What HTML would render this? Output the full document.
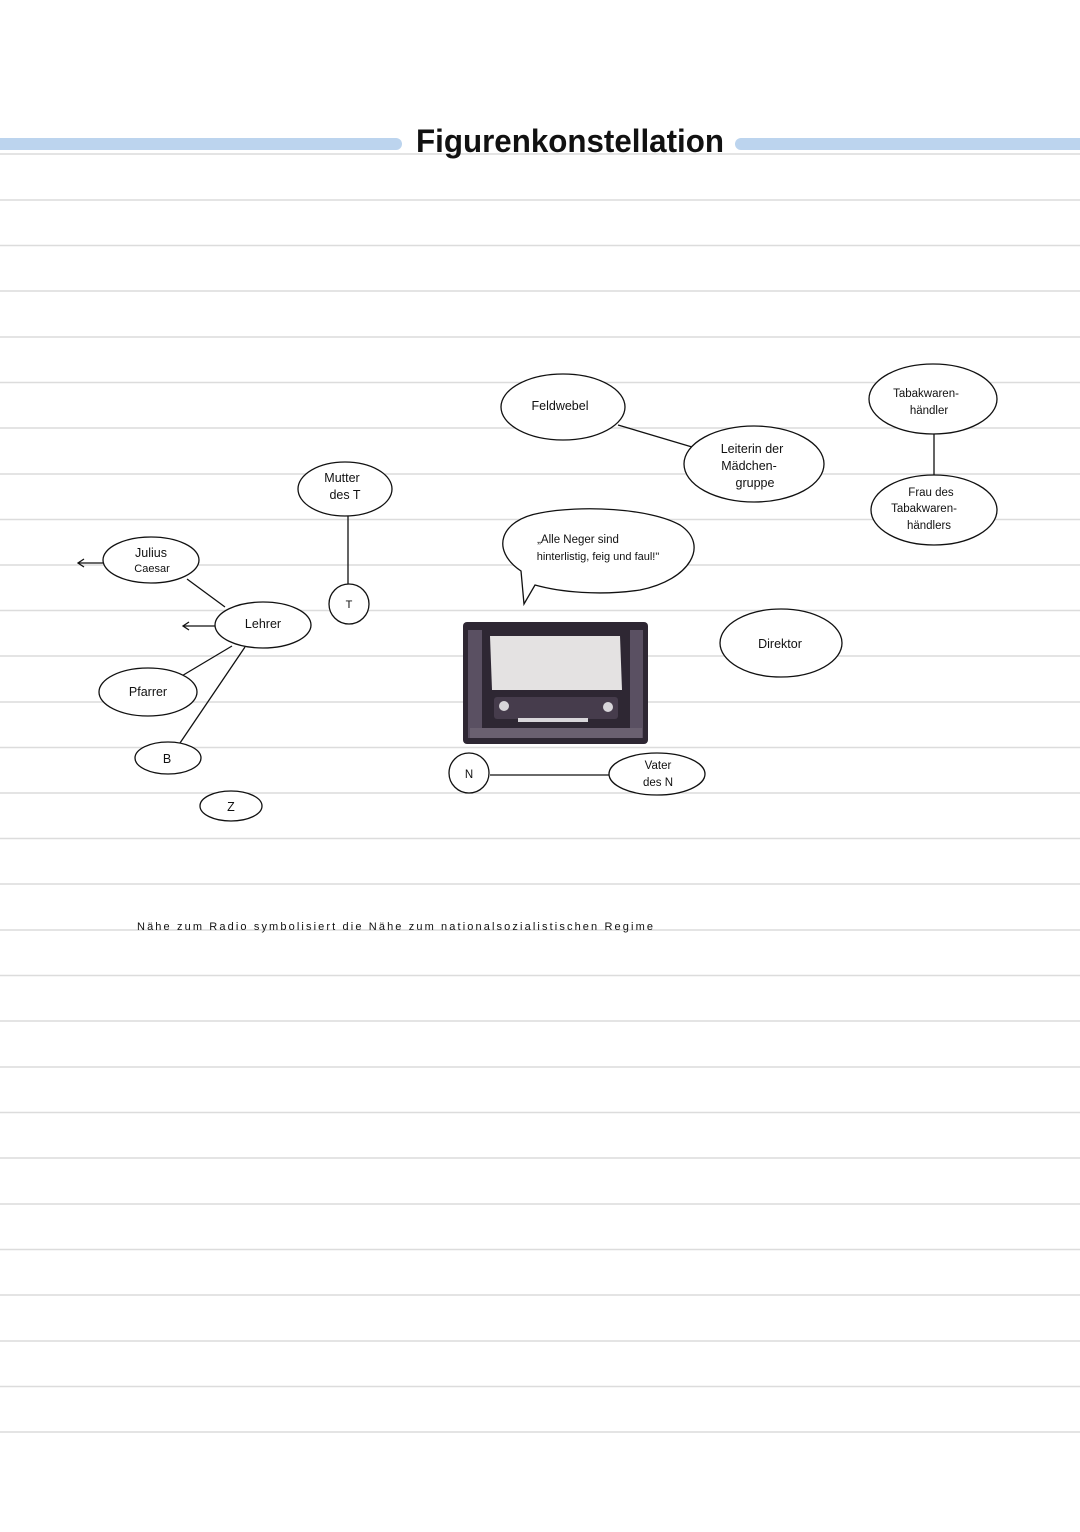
<!DOCTYPE html>
<html><head><meta charset="utf-8"><style>
html,body{margin:0;padding:0;background:#fff;}
svg{display:block}
text{font-family:"Comic Sans MS","Liberation Sans",sans-serif;fill:#111;}
</style></head><body>
<svg width="1080" height="1532" viewBox="0 0 1080 1532" xmlns="http://www.w3.org/2000/svg">
<g stroke="#dcdcdc" stroke-width="1.5">
<line x1="0" y1="154" x2="1080" y2="154"/>
<line x1="0" y1="200" x2="1080" y2="200"/>
<line x1="0" y1="245.5" x2="1080" y2="245.5"/>
<line x1="0" y1="291" x2="1080" y2="291"/>
<line x1="0" y1="337" x2="1080" y2="337"/>
<line x1="0" y1="382.5" x2="1080" y2="382.5"/>
<line x1="0" y1="428" x2="1080" y2="428"/>
<line x1="0" y1="474" x2="1080" y2="474"/>
<line x1="0" y1="519.5" x2="1080" y2="519.5"/>
<line x1="0" y1="565" x2="1080" y2="565"/>
<line x1="0" y1="610.5" x2="1080" y2="610.5"/>
<line x1="0" y1="656" x2="1080" y2="656"/>
<line x1="0" y1="702" x2="1080" y2="702"/>
<line x1="0" y1="747.5" x2="1080" y2="747.5"/>
<line x1="0" y1="793" x2="1080" y2="793"/>
<line x1="0" y1="838.5" x2="1080" y2="838.5"/>
<line x1="0" y1="884" x2="1080" y2="884"/>
<line x1="0" y1="930" x2="1080" y2="930"/>
<line x1="0" y1="975.5" x2="1080" y2="975.5"/>
<line x1="0" y1="1021" x2="1080" y2="1021"/>
<line x1="0" y1="1067" x2="1080" y2="1067"/>
<line x1="0" y1="1112.5" x2="1080" y2="1112.5"/>
<line x1="0" y1="1158" x2="1080" y2="1158"/>
<line x1="0" y1="1204" x2="1080" y2="1204"/>
<line x1="0" y1="1249.5" x2="1080" y2="1249.5"/>
<line x1="0" y1="1295" x2="1080" y2="1295"/>
<line x1="0" y1="1341" x2="1080" y2="1341"/>
<line x1="0" y1="1386.5" x2="1080" y2="1386.5"/>
<line x1="0" y1="1432" x2="1080" y2="1432"/>
</g>
<rect x="-10" y="138" width="412" height="12" rx="6" fill="#bcd4ee"/>
<rect x="735" y="138" width="360" height="12" rx="6" fill="#bcd4ee"/>
<text x="416" y="152" font-size="32" font-weight="bold" textLength="308" lengthAdjust="spacingAndGlyphs">Figurenkonstellation</text>

<g stroke="#111" stroke-width="1.3" fill="none">
<line x1="187" y1="579" x2="225" y2="607"/>
<line x1="183" y1="626" x2="215" y2="626"/>
<line x1="180" y1="677" x2="232" y2="646"/>
<line x1="180" y1="743" x2="245" y2="647"/>
<line x1="105" y1="563" x2="78" y2="563"/>
<line x1="348" y1="516" x2="348" y2="584"/>
<line x1="618" y1="425" x2="692" y2="447"/>
<line x1="934" y1="434" x2="934" y2="476"/>
<line x1="490" y1="775" x2="610" y2="775"/>
<path d="M84 559 L78 563 L84 567"/>
<path d="M189 622 L183 626 L189 630"/>
<ellipse cx="151" cy="560" rx="48" ry="23" fill="#fff"/>
<ellipse cx="263" cy="625" rx="48" ry="23" fill="#fff"/>
<ellipse cx="148" cy="692" rx="49" ry="24" fill="#fff"/>
<ellipse cx="168" cy="758" rx="33" ry="16" fill="#fff"/>
<ellipse cx="231" cy="806" rx="31" ry="15" fill="#fff"/>
<ellipse cx="345" cy="489" rx="47" ry="27" fill="#fff"/>
<circle cx="349" cy="604" r="20" fill="#fff"/>
<ellipse cx="563" cy="407" rx="62" ry="33" fill="#fff"/>
<ellipse cx="754" cy="464" rx="70" ry="38" fill="#fff"/>
<ellipse cx="933" cy="399" rx="64" ry="35" fill="#fff"/>
<ellipse cx="934" cy="510" rx="63" ry="35" fill="#fff"/>
<ellipse cx="781" cy="643" rx="61" ry="34" fill="#fff"/>
<circle cx="469" cy="773" r="20" fill="#fff"/>
<ellipse cx="657" cy="774" rx="48" ry="21" fill="#fff"/>
<path d="M521 571 C490 550 500 520 540 513 C580 505 650 508 680 525 C710 545 690 580 640 590 C600 596 560 592 535 585 L524 604 Z" fill="#fff"/>
</g>

<g font-size="12.5" text-anchor="middle">
<text x="151" y="557">Julius</text><text x="152" y="572" font-size="11">Caesar</text>
<text x="263" y="628">Lehrer</text>
<text x="148" y="696">Pfarrer</text>
<text x="167" y="763">B</text>
<text x="231" y="811">Z</text>
<text x="342" y="482">Mutter</text><text x="345" y="499">des T</text>
<text x="349" y="608" font-size="11">T</text>
<text x="560" y="410">Feldwebel</text>
<text x="752" y="453">Leiterin der</text><text x="749" y="470">Mädchen-</text><text x="755" y="487">gruppe</text>
<text x="926" y="397" font-size="11.5">Tabakwaren-</text><text x="929" y="414" font-size="11.5">händler</text>
<text x="931" y="496" font-size="11.5">Frau des</text><text x="924" y="512" font-size="11.5">Tabakwaren-</text><text x="929" y="529" font-size="11.5">händlers</text>
<text x="780" y="648">Direktor</text>
<text x="469" y="778" font-size="11.5">N</text>
<text x="658" y="769" font-size="11.5">Vater</text><text x="658" y="786" font-size="11.5">des N</text>
<text x="578" y="543" font-size="11.5">„Alle  Neger  sind</text>
<text x="598" y="560" font-size="11">hinterlistig, feig und faul!"</text>
<text x="137" y="930" font-size="11" text-anchor="start" textLength="516" lengthAdjust="spacing">Nähe zum Radio symbolisiert die Nähe zum nationalsozialistischen Regime</text>
</g>

<g>
<rect x="463" y="622" width="185" height="122" rx="4" fill="#2e2733"/>
<rect x="468" y="630" width="14" height="108" fill="#5a5062"/>
<rect x="630" y="630" width="13" height="108" fill="#5a5062"/>
<path d="M490 636 L620 636 L622 690 L492 690 Z" fill="#e4e2e2"/>
<rect x="494" y="697" width="124" height="22" rx="3" fill="#463c4c"/>
<circle cx="504" cy="706" r="5" fill="#d8d6da"/>
<circle cx="608" cy="707" r="5" fill="#d8d6da"/>
<rect x="518" y="718" width="70" height="4" fill="#d8d6da"/>
<rect x="470" y="728" width="172" height="10" fill="#6a6070"/>
</g>
</svg>
</body></html>
